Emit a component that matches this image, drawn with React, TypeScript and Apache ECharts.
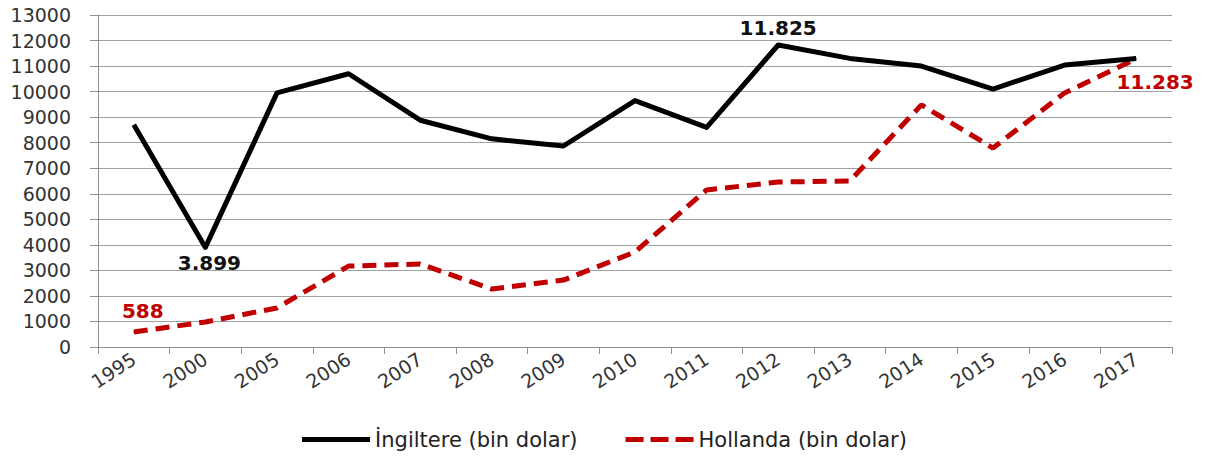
import React, { useEffect, useRef } from "react";
import * as echarts from "echarts";

const years = ["1995", "2000", "2005", "2006", "2007", "2008", "2009", "2010", "2011", "2012", "2013", "2014", "2015", "2016", "2017"];
const ingiltere = [8700, 3899, 9950, 10700, 8880, 8150, 7870, 9650, 8600, 11825, 11300, 11000, 10100, 11040, 11300];
const hollanda = [588, 980, 1530, 3170, 3250, 2270, 2620, 3720, 6150, 6460, 6500, 9480, 7790, 9950, 11283];
const yTicks = { min: 0, max: 13000, interval: 1000 };
const seriesNames = ["İngiltere (bin dolar)", "Hollanda (bin dolar)"];

const FONT = "DejaVu Sans";

function fmt(v: number): string {
  return String(Math.round(v)).replace(/\B(?=(\d{3})+(?!\d))/g, ".");
}

export default function App() {
  const ref = useRef<HTMLDivElement>(null);
  useEffect(() => {
    if (!ref.current) return;
    const chart = echarts.init(ref.current, null, { renderer: "svg" });
    const lblBlack = { show: true, fontFamily: FONT, fontWeight: "bold", fontSize: 20, color: "#111", formatter: (p: any) => fmt(p.value) };
    const lblRed = { show: true, fontFamily: FONT, fontWeight: "bold", fontSize: 20, color: "#c00000", formatter: (p: any) => fmt(p.value) };
    const pt = { symbol: "circle", symbolSize: 1 };
    const ingData = ingiltere.map((v, i) => {
      if (i === 1) return { value: v, ...pt, label: { ...lblBlack, position: "bottom", distance: 5, offset: [4, 0] } };
      if (i === 9) return { value: v, ...pt, label: { ...lblBlack, position: "top", distance: 7 } };
      return v;
    });
    const holData = hollanda.map((v, i) => {
      if (i === 0) return { value: v, ...pt, label: { ...lblRed, position: "top", distance: 10, offset: [9, 0] } };
      if (i === hollanda.length - 1) return { value: v, ...pt, label: { ...lblRed, position: "bottom", distance: 13, offset: [19, 0] } };
      return v;
    });
    chart.setOption({
      animation: false,
      backgroundColor: "#fff",
      grid: { left: 98, right: 37, top: 15, bottom: 117, containLabel: false },
      legend: {
        bottom: 9,
        left: "center",
        itemWidth: 68,
        itemHeight: 5,
        itemGap: 48,
        textStyle: { fontFamily: FONT, fontSize: 21, color: "#222" },
        data: [
          { name: seriesNames[0], icon: "path://M0,0H68V5H0Z" },
          { name: seriesNames[1], icon: "path://M0,0H18V5H0Z M25,0H43V5H25Z M50,0H68V5H50Z" },
        ],
      },
      xAxis: {
        type: "category",
        data: years,
        boundaryGap: true,
        axisLine: { lineStyle: { color: "#909090", width: 1 } },
        axisTick: { show: true, length: 7, alignWithLabel: false, lineStyle: { color: "#909090" } },
        axisLabel: { rotate: 33, margin: 10, fontFamily: FONT, fontSize: 19, color: "#333", interval: 0 },
        splitLine: { show: false },
      },
      yAxis: {
        type: "value",
        min: yTicks.min,
        max: yTicks.max,
        interval: yTicks.interval,
        axisLine: { show: true, lineStyle: { color: "#909090", width: 1 } },
        axisTick: { show: true, length: 8, lineStyle: { color: "#909090" } },
        axisLabel: { margin: 27, fontFamily: FONT, fontSize: 19, color: "#333", formatter: (v: number) => String(v) },
        splitLine: { show: true, lineStyle: { color: "#a0a0a0", width: 1 } },
      },
      series: [
        {
          name: seriesNames[0],
          type: "line",
          data: ingData,
          symbol: "none",
          color: "#000",
          lineStyle: { color: "#000", width: 5, join: "round" },
          z: 3,
        },
        {
          name: seriesNames[1],
          type: "line",
          data: holData,
          symbol: "none",
          color: "#c00000",
          lineStyle: { color: "#c00000", width: 5, type: [14, 8] },
          z: 2,
        },
      ],
    });
    return () => chart.dispose();
  }, []);
  return <div ref={ref} style={{ width: 1209, height: 464, margin: -8 }} />;
}
